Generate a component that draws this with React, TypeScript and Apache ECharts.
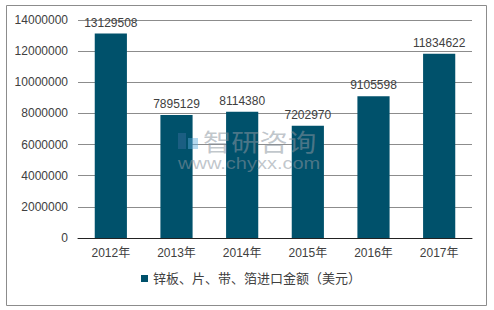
import React, { useEffect, useRef } from "react";
import * as echarts from "echarts";

const categories = ["2012年", "2013年", "2014年", "2015年", "2016年", "2017年"];
const values = [13129508, 7895129, 8114380, 7202970, 9105598, 11834622];
const seriesName = "锌板、片、带、箔进口金额（美元）";

export default function App() {
  const ref = useRef<HTMLDivElement>(null);
  useEffect(() => {
    document.body.style.margin = "0";
    const chart = echarts.init(ref.current!, undefined, { renderer: "svg" });
    const font = "Arial, 'Liberation Sans', 'Noto Sans CJK SC', sans-serif";
    const wm = "rgba(140,150,160,0.55)";
    chart.setOption({
      animation: false,
      backgroundColor: "#fff",
      textStyle: { fontFamily: font },
      graphic: [
        {
          type: "rect",
          shape: { x: 6.5, y: 5.5, width: 480, height: 300 },
          style: { fill: "none", stroke: "#8c8c8c", lineWidth: 1 },
          z: 0,
        },
        {
          type: "rect",
          shape: { x: 178, y: 133, width: 8, height: 16 },
          style: { fill: "rgba(60,110,160,0.45)" },
          z: 10,
        },
        {
          type: "rect",
          shape: { x: 188, y: 138, width: 10, height: 11 },
          style: { fill: "rgba(90,170,220,0.45)" },
          z: 10,
        },
        {
          type: "text",
          x: 203,
          y: 129,
          scaleX: 1.18,
          style: {
            text: "智研咨询",
            font: "24px 'Noto Sans CJK SC'",
            fill: wm,
          },
          z: 10,
        },
        {
          type: "text",
          x: 178,
          y: 156,
          scaleX: 1.25,
          style: {
            text: "www.chyxx.com",
            font: "16px 'Liberation Sans', Arial",
            fill: wm,
          },
          z: 10,
        },
      ],
      grid: { left: 78, right: 22, top: 20, bottom: 72 },
      legend: {
        bottom: 20,
        left: 136,
        itemWidth: 7,
        itemHeight: 7,
        icon: "rect",
        itemGap: 4,
        textStyle: { fontSize: 13, color: "#404040", fontFamily: font },
        data: [seriesName],
      },
      xAxis: {
        type: "category",
        data: categories,
        axisLine: { lineStyle: { color: "#222", width: 1 } },
        axisTick: { show: false },
        axisLabel: { color: "#404040", fontSize: 12, margin: 9, fontFamily: font },
      },
      yAxis: {
        type: "value",
        min: 0,
        max: 14000000,
        interval: 2000000,
        axisLine: { show: false },
        axisTick: { show: false },
        splitLine: { lineStyle: { color: "#8c8c8c", width: 1 } },
        axisLabel: {
          color: "#404040",
          fontSize: 12,
          margin: 10,
          fontFamily: font,
          formatter: (v: number) => String(v),
        },
      },
      series: [
        {
          name: seriesName,
          type: "bar",
          data: values,
          barWidth: "49%",
          itemStyle: { color: "#00516b" },
          label: {
            show: true,
            position: "top",
            distance: 5,
            color: "#404040",
            fontSize: 12,
            fontFamily: font,
          },
        },
      ],
    });
    return () => chart.dispose();
  }, []);
  return <div ref={ref} style={{ width: 494, height: 310 }} />;
}
